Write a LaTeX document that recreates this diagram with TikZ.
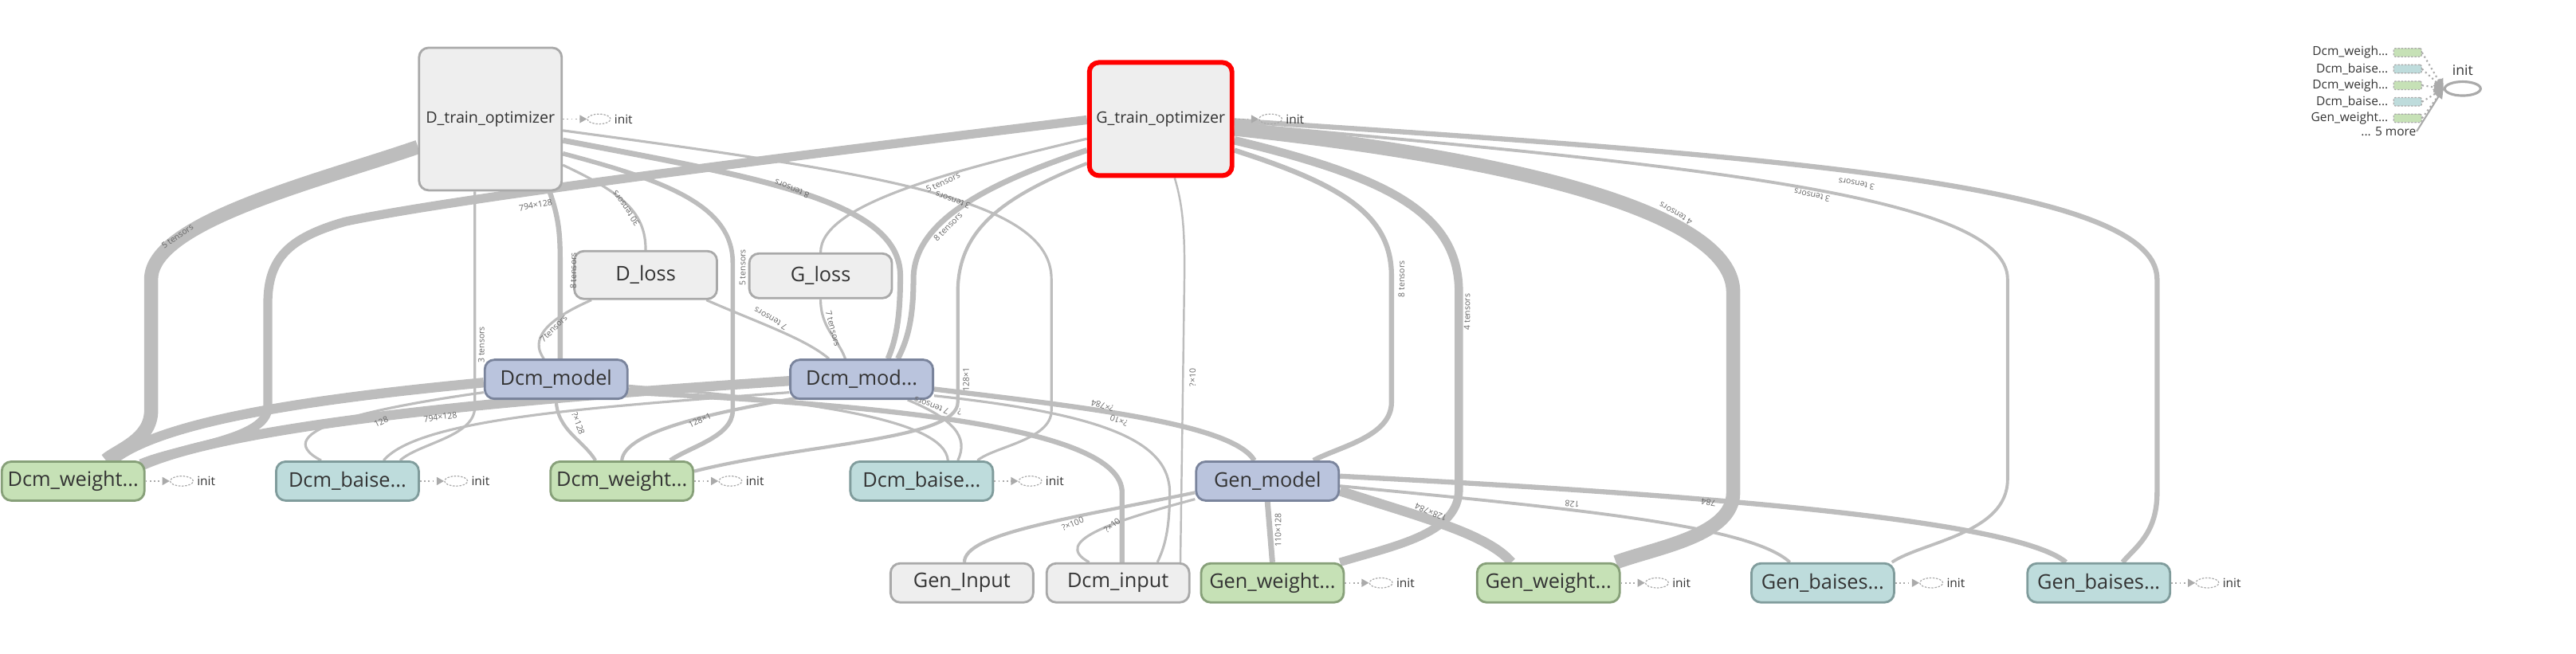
\documentclass[tikz,border=0pt]{standalone}
\usepackage{fontspec}
\setmainfont{Open Sans}
\usetikzlibrary{arrows.meta,shapes.geometric}

\definecolor{edgegray}{HTML}{BDBDBD}
\definecolor{opfill}{HTML}{EEEEEE}
\definecolor{opline}{HTML}{A9A9A9}
\definecolor{modfill}{HTML}{BAC4DD}
\definecolor{modline}{HTML}{7A849C}
\definecolor{wfill}{HTML}{C6E1B6}
\definecolor{wline}{HTML}{87A079}
\definecolor{bfill}{HTML}{BEDCDC}
\definecolor{bline}{HTML}{809C9C}
\definecolor{txt}{HTML}{333333}
\definecolor{lbl}{HTML}{666666}
\definecolor{initgray}{HTML}{AAAAAA}

\newcommand{\elps}{...}

\pgfdeclarelayer{edges}
\pgfsetlayers{edges,main}

\tikzset{
  op/.style={draw=opline, fill=opfill, line width=0.8pt, rounded corners=0.12cm,
    minimum width=1.79cm, minimum height=0.49cm, inner sep=0pt, text=txt,
    font=\fontsize{7.2}{9}\selectfont},
  optim/.style={op, minimum height=1.79cm, font=\fontsize{5.6}{7}\selectfont},
  model/.style={op, draw=modline, fill=modfill},
  wvar/.style={op, draw=wline, fill=wfill},
  bvar/.style={op, draw=bline, fill=bfill},
  flow/.style={draw=edgegray, line width=#1},
  flow/.default=0.9pt,
  elabel/.style={font=\fontsize{3}{3.5}\selectfont, text=lbl, inner sep=0.5pt},
  initell/.style={ellipse, draw=initgray, dash pattern=on 0.7pt off 0.5pt, line width=0.35pt,
    minimum width=0.29cm, minimum height=0.125cm, inner sep=0pt},
  initlbl/.style={font=\fontsize{4.4}{5}\selectfont, text=txt, inner sep=1pt},
  initarr/.style={draw=initgray, densely dotted, line width=0.5pt,
    -{Triangle[length=2.6pt,width=2.8pt]}},
  lgbox/.style={draw=initgray, dash pattern=on 0.7pt off 0.5pt, line width=0.35pt, rounded corners=0.6pt,
    minimum width=0.35cm, minimum height=0.105cm, inner sep=0pt},
  lgtxt/.style={font=\fontsize{4.4}{5}\selectfont, text=txt, inner sep=0pt},
  lgdot/.style={draw=initgray, densely dotted, line width=0.6pt,
    -{Triangle[length=3.4pt,width=3.6pt]}}
}

\begin{document}
\begin{tikzpicture}[x=0.02061cm,y=-0.02061cm]
\useasboundingbox (0,0) rectangle (1568,398.3);

% ops
\node[optim] (dtrain) at (298.5,72.5) {D\_train\_optimizer};
\node[optim, draw=red, line width=1.7pt, minimum height=1.42cm] (gtrain) at (706.5,72.5) {G\_train\_optimizer};
\node[op, minimum height=0.6cm] (dloss) at (393,167.5) {D\_loss};
\node[op, minimum height=0.56cm] (gloss) at (499.5,168) {G\_loss};
\node[model] (dcmA) at (338.5,231) {Dcm\_model};
\node[model] (dcmB) at (524.5,231) {Dcm\_mod\elps};
\node[model] (genmodel) at (771.5,293) {Gen\_model};
\node[wvar] (dw1) at (44.5,293) {Dcm\_weight\elps};
\node[bvar] (db1) at (211.5,293) {Dcm\_baise\elps};
\node[wvar] (dw2) at (378.5,293) {Dcm\_weight\elps};
\node[bvar] (db2) at (561,293) {Dcm\_baise\elps};
\node[op] (genin) at (585.5,355) {Gen\_Input};
\node[op] (dcmin) at (680.5,355) {Dcm\_input};
\node[wvar] (gw1) at (774.5,355) {Gen\_weight\elps};
\node[wvar] (gw2) at (942.5,355) {Gen\_weight\elps};
\node[bvar] (gb1) at (1109.5,355) {Gen\_baises\elps};
\node[bvar] (gb2) at (1277.5,355) {Gen\_baises\elps};

\foreach \v in {dtrain,gtrain,dw1,db1,dw2,db2,gw1,gw2,gb1,gb2}{
  \node[initell] (\v-i) at ([shift={(22,0)}]\v.east) {};
  \node[initlbl, anchor=west] at (\v-i.east) {init};
  \draw[initarr] (\v.east) -- (\v-i.west);
}

\begin{pgfonlayer}{edges}
\draw[flow=5pt] ([shift={(0,17)}]dtrain.west) .. controls (195,110) and (92,135) .. (92,170) -- (92,250) .. controls (92,268) and (72,274) .. ([shift={(20,0)}]dw1.north);
\draw[flow=3.2pt] ([shift={(0,0.5)}]gtrain.west) .. controls (500,93) and (280,120) .. (210,135) .. controls (175,145) and (163,158) .. (163,185) -- (163,248) .. controls (163,268) and (110,272) .. ([shift={(-3,2)}]dw1.north east);
\draw[flow=3.5pt] ([shift={(0,2)}]dcmA.west) .. controls (200,242) and (100,255) .. ([shift={(24,0)}]dw1.north);
\draw[flow=3.5pt] ([shift={(0,1)}]dcmB.west) .. controls (360,240) and (150,255) .. ([shift={(-2,3)}]dw1.north east);
\draw[flow] ([shift={(0,8)}]dcmA.west) .. controls (230,248) and (160,262) .. ([shift={(-16,0)}]db1.north);
\draw[flow] ([shift={(-9.5,0)}]dtrain.south) -- (289,248) .. controls (289,266) and (255,270) .. ([shift={(32,0)}]db1.north);
\draw[flow] ([shift={(0,8)}]dcmB.west) .. controls (360,248) and (255,255) .. ([shift={(22,0)}]db1.north);
\draw[flow=1.8pt] ([shift={(36,0)}]dtrain.south) .. controls (341,135) and (341,145) .. (341,165) -- ([shift={(2.5,0)}]dcmA.north);
\draw[flow] ([shift={(-33,0)}]dloss.south) .. controls (325,198) and (325,210) .. ([shift={(-7.5,0)}]dcmA.north);
\draw[flow] ([shift={(0,28)}]dtrain.east) .. controls (380,118) and (393,130) .. (dloss.north);
\draw[flow=1.6pt] ([shift={(0,21)}]dtrain.east) .. controls (405,110) and (446,125) .. (446,160) -- (446,250) .. controls (446,266) and (420,272) .. ([shift={(29.5,0)}]dw2.north);
\draw[flow=2pt] ([shift={(0,13)}]dtrain.east) .. controls (460,108) and (548,122) .. (548,168) .. controls (548,195) and (545,208) .. ([shift={(16,0)}]dcmB.north);
\draw[flow] ([shift={(0,7)}]dtrain.east) .. controls (540,106) and (640,122) .. (640,170) -- (640,250) .. controls (640,268) and (605,272) .. ([shift={(34,0)}]db2.north);
\draw[flow] ([shift={(0,12)}]gtrain.west) .. controls (575,105) and (499.5,125) .. (gloss.north);
\draw[flow=2pt] ([shift={(0,19)}]gtrain.west) .. controls (600,112) and (556,135) .. (556,170) .. controls (556,195) and (552,208) .. ([shift={(22,0)}]dcmB.north);
\draw[flow=1.2pt] ([shift={(0,27)}]gtrain.west) .. controls (610,120) and (583,140) .. (583,178) -- (583,245) .. controls (583,268) and (490,270) .. ([shift={(0,-6)}]dw2.east);
\draw[flow=0.7pt] ([shift={(8.5,0)}]gtrain.south) .. controls (720,125) and (721,140) .. (721,165) -- ([shift={(38,0)}]dcmin.north);
\draw[flow=1.8pt] ([shift={(0,19)}]gtrain.east) .. controls (815,112) and (847,130) .. (847,168) -- (847,245) .. controls (847,266) and (815,272) .. ([shift={(28,0)}]genmodel.north);
\draw[flow=3pt] ([shift={(0,13)}]gtrain.east) .. controls (845,108) and (888,130) .. (888,178) -- (888,298) .. controls (888,325) and (850,332) .. ([shift={(-3,0)}]gw1.north east);
\draw[flow=5pt] ([shift={(0,6)}]gtrain.east) .. controls (950,100) and (1055,135) .. (1055,178) -- (1055,300) .. controls (1055,326) and (1010,333) .. ([shift={(-3,0)}]gw2.north east);
\draw[flow=1.1pt] ([shift={(0,3)}]gtrain.east) .. controls (1020,100) and (1222,118) .. (1222,170) -- (1222,292) .. controls (1222,325) and (1170,330) .. ([shift={(-2,0)}]gb1.north east);
\draw[flow=1.8pt] ([shift={(0,1)}]gtrain.east) .. controls (1080,95) and (1313,112) .. (1313,170) -- (1313,300) .. controls (1313,325) and (1300,333) .. ([shift={(14.5,0)}]gb2.north);
\draw[flow] (gloss.south) .. controls (499.5,200) and (510,206) .. ([shift={(-10,0)}]dcmB.north);
\draw[flow] ([shift={(37,0)}]dloss.south) .. controls (460,196) and (490,206) .. ([shift={(-20,0)}]dcmB.north);
\draw[flow=1.8pt] ([shift={(0,6)}]dcmB.east) .. controls (660,248) and (750,258) .. ([shift={(-8,0)}]genmodel.north);
\draw[flow] ([shift={(0,10)}]dcmB.east) .. controls (670,252) and (712,268) .. (712,300) .. controls (712,325) and (708,335) .. ([shift={(24,0)}]dcmin.north);
\draw[flow=1.8pt] ([shift={(0,8)}]dcmA.east) .. controls (520,246) and (683,258) .. (683,300) -- ([shift={(2.5,0)}]dcmin.north);
\draw[flow] ([shift={(0,4)}]dcmA.east) .. controls (490,244) and (575,255) .. ([shift={(16,0)}]db2.north);
\draw[flow] ([shift={(28,0)}]dcmB.south) .. controls (580,255) and (590,266) .. ([shift={(22,0)}]db2.north);
\draw[flow=1.2pt] (dw2.north) .. controls (380,262) and (440,250) .. ([shift={(10,-2)}]dcmB.south west);
\draw[flow=1.2pt] (dcmA.south) .. controls (339,262) and (355,268) .. ([shift={(-16,0)}]dw2.north);
\draw[flow=1.2pt] ([shift={(0,7)}]genmodel.west) .. controls (650,316) and (587,325) .. ([shift={(1.5,0)}]genin.north);
\draw[flow] ([shift={(0,11)}]genmodel.west) .. controls (675,318) and (640,330) .. ([shift={(-17.5,0)}]dcmin.north);
\draw[flow=2pt] (genmodel.south) -- (gw1.north);
\draw[flow=3.5pt] ([shift={(0,6)}]genmodel.east) .. controls (865,315) and (905,325) .. ([shift={(-22.5,0)}]gw2.north);
\draw[flow=1.1pt] ([shift={(0,3)}]genmodel.east) .. controls (960,310) and (1065,320) .. ([shift={(-20,0)}]gb1.north);
\draw[flow=1.8pt] ([shift={(0,-3)}]genmodel.east) .. controls (1010,300) and (1225,315) .. ([shift={(-20,0)}]gb2.north);
\end{pgfonlayer}

% edge labels
\node[elabel, rotate=35] at (108,144) {5 tensors};
\node[elabel, rotate=10] at (326,125) {794×128};
\node[elabel, rotate=125] at (381,127) {30 tensors};
\node[elabel, rotate=90] at (349,165) {8 tensors};
\node[elabel, rotate=90] at (293,210) {3 tensors};
\node[elabel, rotate=90] at (452,163) {5 tensors};
\node[elabel, rotate=158] at (482,115) {8 tensors};
\node[elabel, rotate=25] at (574,111) {5 tensors};
\node[elabel, rotate=160] at (580,122) {3 tensors};
\node[elabel, rotate=45] at (577,138) {8 tensors};
\node[elabel, rotate=90] at (588,231) {128×1};
\node[elabel, rotate=90] at (726,230) {?×10};
\node[elabel, rotate=90] at (853,170) {8 tensors};
\node[elabel, rotate=90] at (893,190) {4 tensors};
\node[elabel, rotate=150] at (1020,130) {4 tensors};
\node[elabel, rotate=168] at (1103,119) {3 tensors};
\node[elabel, rotate=170] at (1130,112) {3 tensors};
\node[elabel, rotate=45] at (337,200) {7tensors};
\node[elabel, rotate=150] at (469,194) {7 tensors};
\node[elabel, rotate=285] at (507,200) {7 tensors};
\node[elabel, rotate=8] at (268,254) {794×128};
\node[elabel, rotate=25] at (232,257) {128};
\node[elabel, rotate=-70] at (352,258) {?×128};
\node[elabel, rotate=25] at (426,256) {128×1};
\node[elabel, rotate=160] at (567,247) {7 tensors};
\node[elabel, rotate=175] at (584,251) {?};
\node[elabel, rotate=165] at (671,247) {?×784};
\node[elabel, rotate=160] at (681,256) {?×10};
\node[elabel, rotate=22] at (653,319) {?×100};
\node[elabel, rotate=40] at (677,320) {?×10};
\node[elabel, rotate=90] at (778,323) {110×128};
\node[elabel, rotate=157] at (871,312) {128×784};
\node[elabel, rotate=175] at (957,307) {128};
\node[elabel, rotate=172] at (1040,306) {784};

% init summary
\node[ellipse, draw=initgray, line width=0.9pt, minimum width=0.45cm, minimum height=0.175cm, inner sep=0pt] (lgell) at (1499,54) {};
\node[font=\fontsize{5}{6}\selectfont, text=txt] at (1499,43) {init};
\foreach \lab/\col/\yy [count=\i] in {Dcm\_weigh\elps/wfill/32,Dcm\_baise\elps/bfill/42,Dcm\_weigh\elps/wfill/52,Dcm\_baise\elps/bfill/62,Gen\_weight\elps/wfill/72}{
  \node[lgbox, fill=\col] (lg\i) at (1465.5,\yy) {};
  \node[lgtxt, anchor=east] at (1454,\yy) {\lab};
  \draw[lgdot] (lg\i.east) -- (lgell.west);
}
\node[lgtxt, anchor=east] (lgmore) at (1471,80) {\elps{} 5 more};
\draw[draw=initgray, line width=0.6pt] (lgmore.east) -- (lgell.west);
\end{tikzpicture}
\end{document}
